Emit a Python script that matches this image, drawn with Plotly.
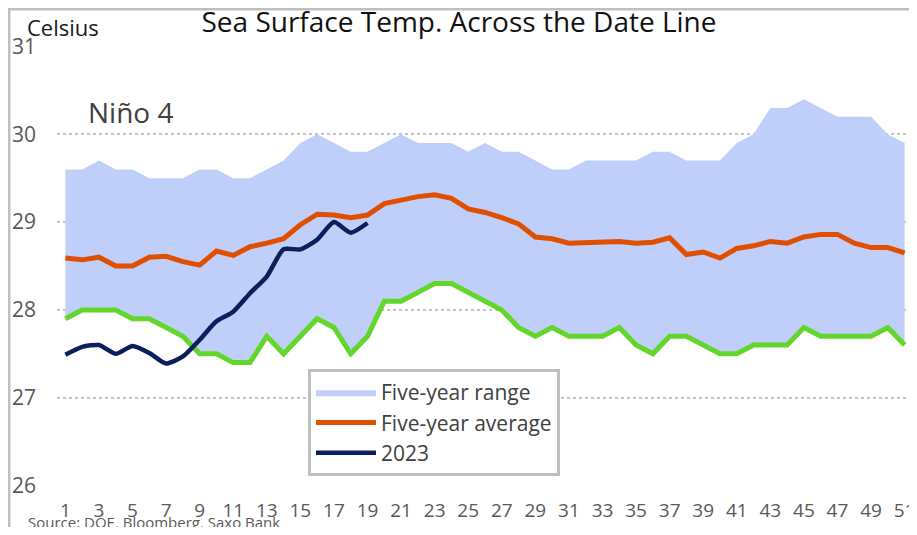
import plotly.graph_objects as go

weeks = list(range(1, 52))

range_upper = [29.6, 29.6, 29.7, 29.6, 29.6, 29.5, 29.5, 29.5, 29.6, 29.6,
               29.5, 29.5, 29.6, 29.7, 29.9, 30.0, 29.9, 29.8, 29.8, 29.9,
               30.0, 29.9, 29.9, 29.9, 29.8, 29.9, 29.8, 29.8, 29.7, 29.6,
               29.6, 29.7, 29.7, 29.7, 29.7, 29.8, 29.8, 29.7, 29.7, 29.7,
               29.9, 30.0, 30.3, 30.3, 30.4, 30.3, 30.2, 30.2, 30.2, 30.0,
               29.9]

range_lower = [27.9, 28.0, 28.0, 28.0, 27.9, 27.9, 27.8, 27.7, 27.5, 27.5,
               27.4, 27.4, 27.7, 27.5, 27.7, 27.9, 27.8, 27.5, 27.7, 28.1,
               28.1, 28.2, 28.3, 28.3, 28.2, 28.1, 28.0, 27.8, 27.7, 27.8,
               27.7, 27.7, 27.7, 27.8, 27.6, 27.5, 27.7, 27.7, 27.6, 27.5,
               27.5, 27.6, 27.6, 27.6, 27.8, 27.7, 27.7, 27.7, 27.7, 27.8,
               27.6]

five_year_avg = [28.59, 28.57, 28.60, 28.50, 28.50, 28.60, 28.61, 28.55, 28.51, 28.67,
                 28.62, 28.72, 28.76, 28.81, 28.97, 29.09, 29.08, 29.05, 29.08, 29.21,
                 29.25, 29.29, 29.31, 29.27, 29.15, 29.11, 29.05, 28.98, 28.83, 28.81,
                 28.76, 28.77, 28.78, 28.78, 28.76, 28.77, 28.82, 28.63, 28.66, 28.59,
                 28.70, 28.73, 28.78, 28.76, 28.83, 28.86, 28.86, 28.76, 28.71, 28.71,
                 28.65]

weeks_2023 = list(range(1, 20))
temp_2023 = [27.49, 27.58, 27.60, 27.50, 27.59, 27.51, 27.39, 27.47, 27.66, 27.87,
             27.98, 28.19, 28.38, 28.69, 28.69, 28.80, 29.00, 28.88, 28.99]

x_tick_vals = list(range(1, 52, 2))
y_tick_vals = [26, 27, 28, 29, 30, 31]

FONT = "Open Sans"

# The page body adds an 8px margin on every side; layout numbers below are in page pixels.
OFF = 8
PLOT_L, PLOT_T, PLOT_W, PLOT_H = 57, 46, 856, 440
W, H = 917 - OFF, 535 - 2 * OFF


def px(sx):
    return (sx - PLOT_L) / PLOT_W


def py(sy):
    return (PLOT_T + PLOT_H - sy) / PLOT_H


fig = go.Figure()

fig.add_trace(go.Scatter(x=weeks, y=range_lower, mode="lines",
                         line=dict(width=0, color="rgba(0,0,0,0)"),
                         showlegend=False, hoverinfo="skip"))
fig.add_trace(go.Scatter(x=weeks, y=range_upper, mode="lines", fill="tonexty",
                         fillcolor="#bfcffa", line=dict(width=0, color="#bfcffa"),
                         name="Five-year range", legendgroup="a"))
fig.add_trace(go.Scatter(x=weeks, y=range_lower, mode="lines",
                         line=dict(width=5, color="#62d62a"),
                         showlegend=False, name="Five-year low"))
fig.add_trace(go.Scatter(x=weeks, y=five_year_avg, mode="lines",
                         line=dict(width=5, color="#e04e00"),
                         name="Five-year average", legendgroup="b"))
fig.add_trace(go.Scatter(x=weeks_2023, y=temp_2023, mode="lines",
                         line=dict(width=4.5, color="#0b1f5c", shape="spline", smoothing=0.6),
                         name="2023", legendgroup="c"))

fig.update_layout(
    width=W, height=H,
    margin=dict(l=PLOT_L - OFF, r=W - (PLOT_L - OFF) - PLOT_W,
                t=PLOT_T - OFF, b=H - (PLOT_T - OFF) - PLOT_H, autoexpand=False),
    paper_bgcolor="white", plot_bgcolor="white",
    font=dict(family=FONT, color="#595959"),
    title=dict(text="Sea Surface Temp. Across the Date Line", x=(459 - OFF) / W,
               xref="container", xanchor="center", y=1 - (22 - OFF) / H,
               yref="container", yanchor="middle",
               font=dict(family=FONT, size=28, color="#111111")),
    xaxis=dict(range=[0.5, 51.5], tickvals=x_tick_vals, showgrid=False, zeroline=False,
               showline=False, ticks="", tickfont=dict(size=19, color="#595959"),
               ticklabelstandoff=11, automargin=False),
    yaxis=dict(range=[25.995, 31.005], tickvals=y_tick_vals, zeroline=False, showline=False,
               ticks="", tickfont=dict(size=21, color="#595959"),
               ticklabelstandoff=20, automargin=False,
               showgrid=True, gridcolor="#c4c4c4", griddash="dot", gridwidth=1.5),
    legend=dict(x=px(308), y=py(369), xanchor="left", yanchor="top",
                bordercolor="#bfbfbf", borderwidth=3, bgcolor="white",
                font=dict(family=FONT, size=21, color="#404040"),
                traceorder="grouped", tracegroupgap=0, itemwidth=60),
    showlegend=True,
    annotations=[
        dict(text="Celsius", xref="paper", yref="paper", x=px(25), y=py(27),
             xanchor="left", yanchor="middle", showarrow=False,
             font=dict(family=FONT, size=22, color="#1a1a1a")),
        dict(text="Niño 4", xref="paper", yref="paper", x=px(86), y=py(112),
             xanchor="left", yanchor="middle", showarrow=False,
             font=dict(family=FONT, size=28, color="#404040")),
        dict(text="Source: DOE, Bloomberg, Saxo Bank", xref="paper", yref="paper",
             x=px(26), y=py(522), xanchor="left", yanchor="middle",
             showarrow=False, font=dict(family=FONT, size=15, color="#595959")),
    ],
    shapes=[
        dict(type="line", xref="paper", yref="paper", x0=-0.2, x1=1.2,
             y0=py(9.2), y1=py(9.2), line=dict(color="#bfbfbf", width=2.5)),
        dict(type="line", xref="paper", yref="paper", x0=px(9.2), x1=px(9.2),
             y0=-0.3, y1=py(8), line=dict(color="#bfbfbf", width=2.5)),
    ],
)

fig.write_html("out.html")
